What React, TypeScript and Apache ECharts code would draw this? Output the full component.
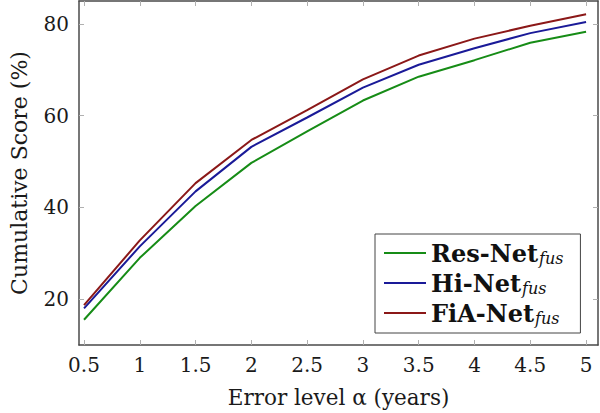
import React, { useEffect, useRef } from "react";
import * as echarts from "echarts";

const xValues = [0.5, 1, 1.5, 2, 2.5, 3, 3.5, 4, 4.5, 5];
const resNet = [15.5, 29.0, 40.3, 49.7, 56.6, 63.3, 68.5, 72.1, 75.9, 78.3];
const hiNet = [18.0, 31.5, 43.5, 53.2, 59.6, 66.1, 71.1, 74.7, 78.0, 80.4];
const fiaNet = [18.7, 32.8, 45.3, 54.7, 61.2, 67.9, 73.1, 76.8, 79.6, 82.1];
const xTicks = [0.5, 1, 1.5, 2, 2.5, 3, 3.5, 4, 4.5, 5];
const yTicks = [20, 40, 60, 80];
const seriesNames = ["Res-Net", "Hi-Net", "FiA-Net"];
const seriesColors = ["#168c16", "#1a1a98", "#8b1818"];

const FONT = "DejaVu Serif";

export default function App() {
  const ref = useRef<HTMLDivElement>(null);
  useEffect(() => {
    if (!ref.current) return;
    const chart = echarts.init(ref.current, undefined, { renderer: "svg" });
    const allData = [resNet, hiNet, fiaNet];
    const xMin = 0.455;
    const xMax = 5.107;
    const yMin = 10;
    const yMax = 85;
    const axisLine = { show: true, onZero: false, lineStyle: { color: "#4a4a4a", width: 1.5 } };
    const tick = (vals: number[]) => ({
      show: true,
      inside: true,
      length: 5,
      customValues: vals,
      lineStyle: { color: "#b0b0b0", width: 1 },
    });
    chart.setOption({
      animation: false,
      backgroundColor: "#ffffff",
      textStyle: { fontFamily: FONT },
      grid: { left: 76, right: 2, top: 1, bottom: 67, containLabel: false },
      xAxis: [
        {
          type: "value",
          min: xMin,
          max: xMax,
          splitLine: { show: false },
          position: "bottom",
          name: "Error level α (years)",
          nameLocation: "middle",
          nameGap: 41,
          nameTextStyle: { fontFamily: FONT, fontSize: 21.5, color: "#1a1a1a" },
          axisLine,
          axisTick: tick(xTicks),
          axisLabel: { show: true, customValues: xTicks, margin: 10, fontFamily: FONT, fontSize: 20, color: "#1a1a1a" },
        },
        {
          type: "value",
          min: xMin,
          max: xMax,
          splitLine: { show: false },
          position: "top",
          axisLine,
          axisTick: tick(xTicks),
          axisLabel: { show: false },
        },
      ],
      yAxis: [
        {
          type: "value",
          min: yMin,
          max: yMax,
          splitLine: { show: false },
          position: "left",
          name: "Cumulative Score (%)",
          nameLocation: "middle",
          nameGap: 49,
          nameTextStyle: { fontFamily: FONT, fontSize: 22, color: "#1a1a1a" },
          axisLine,
          axisTick: tick(yTicks),
          axisLabel: { show: true, customValues: yTicks, margin: 10, fontFamily: FONT, fontSize: 20, color: "#1a1a1a" },
        },
        {
          type: "value",
          min: yMin,
          max: yMax,
          splitLine: { show: false },
          position: "right",
          axisLine,
          axisTick: tick(yTicks),
          axisLabel: { show: false },
        },
      ],
      legend: {
        orient: "vertical",
        left: 375,
        top: 234,
        padding: [7, 17, 7, 9],
        itemGap: 5,
        itemWidth: 42,
        itemHeight: 2,
        icon: "rect",
        borderColor: "#444",
        borderWidth: 1,
        backgroundColor: "#fff",
        data: seriesNames,
        formatter: (name: string) => `{b|${name}}{s|fus}`,
        textStyle: {
          fontFamily: FONT,
          color: "#111",
          rich: {
            b: { fontFamily: FONT, fontSize: 24, fontWeight: "bold", lineHeight: 26, verticalAlign: "middle", color: "#111" },
            s: { fontFamily: FONT, fontSize: 16, fontStyle: "italic", lineHeight: 26, verticalAlign: "bottom", padding: [0, 0, 0, 1], color: "#111" },
          },
        },
      },
      series: seriesNames.map((name, i) => ({
        name,
        type: "line",
        xAxisIndex: 0,
        yAxisIndex: 0,
        symbol: "none",
        data: xValues.map((x, j) => [x, allData[i][j]]),
        lineStyle: { color: seriesColors[i], width: 2 },
        itemStyle: { color: seriesColors[i] },
        z: 3 + i,
      })),
    });
    return () => chart.dispose();
  }, []);
  return (
    <div
      ref={ref}
      style={{ position: "absolute", left: 0, top: 0, width: 600, height: 413 }}
    />
  );
}
